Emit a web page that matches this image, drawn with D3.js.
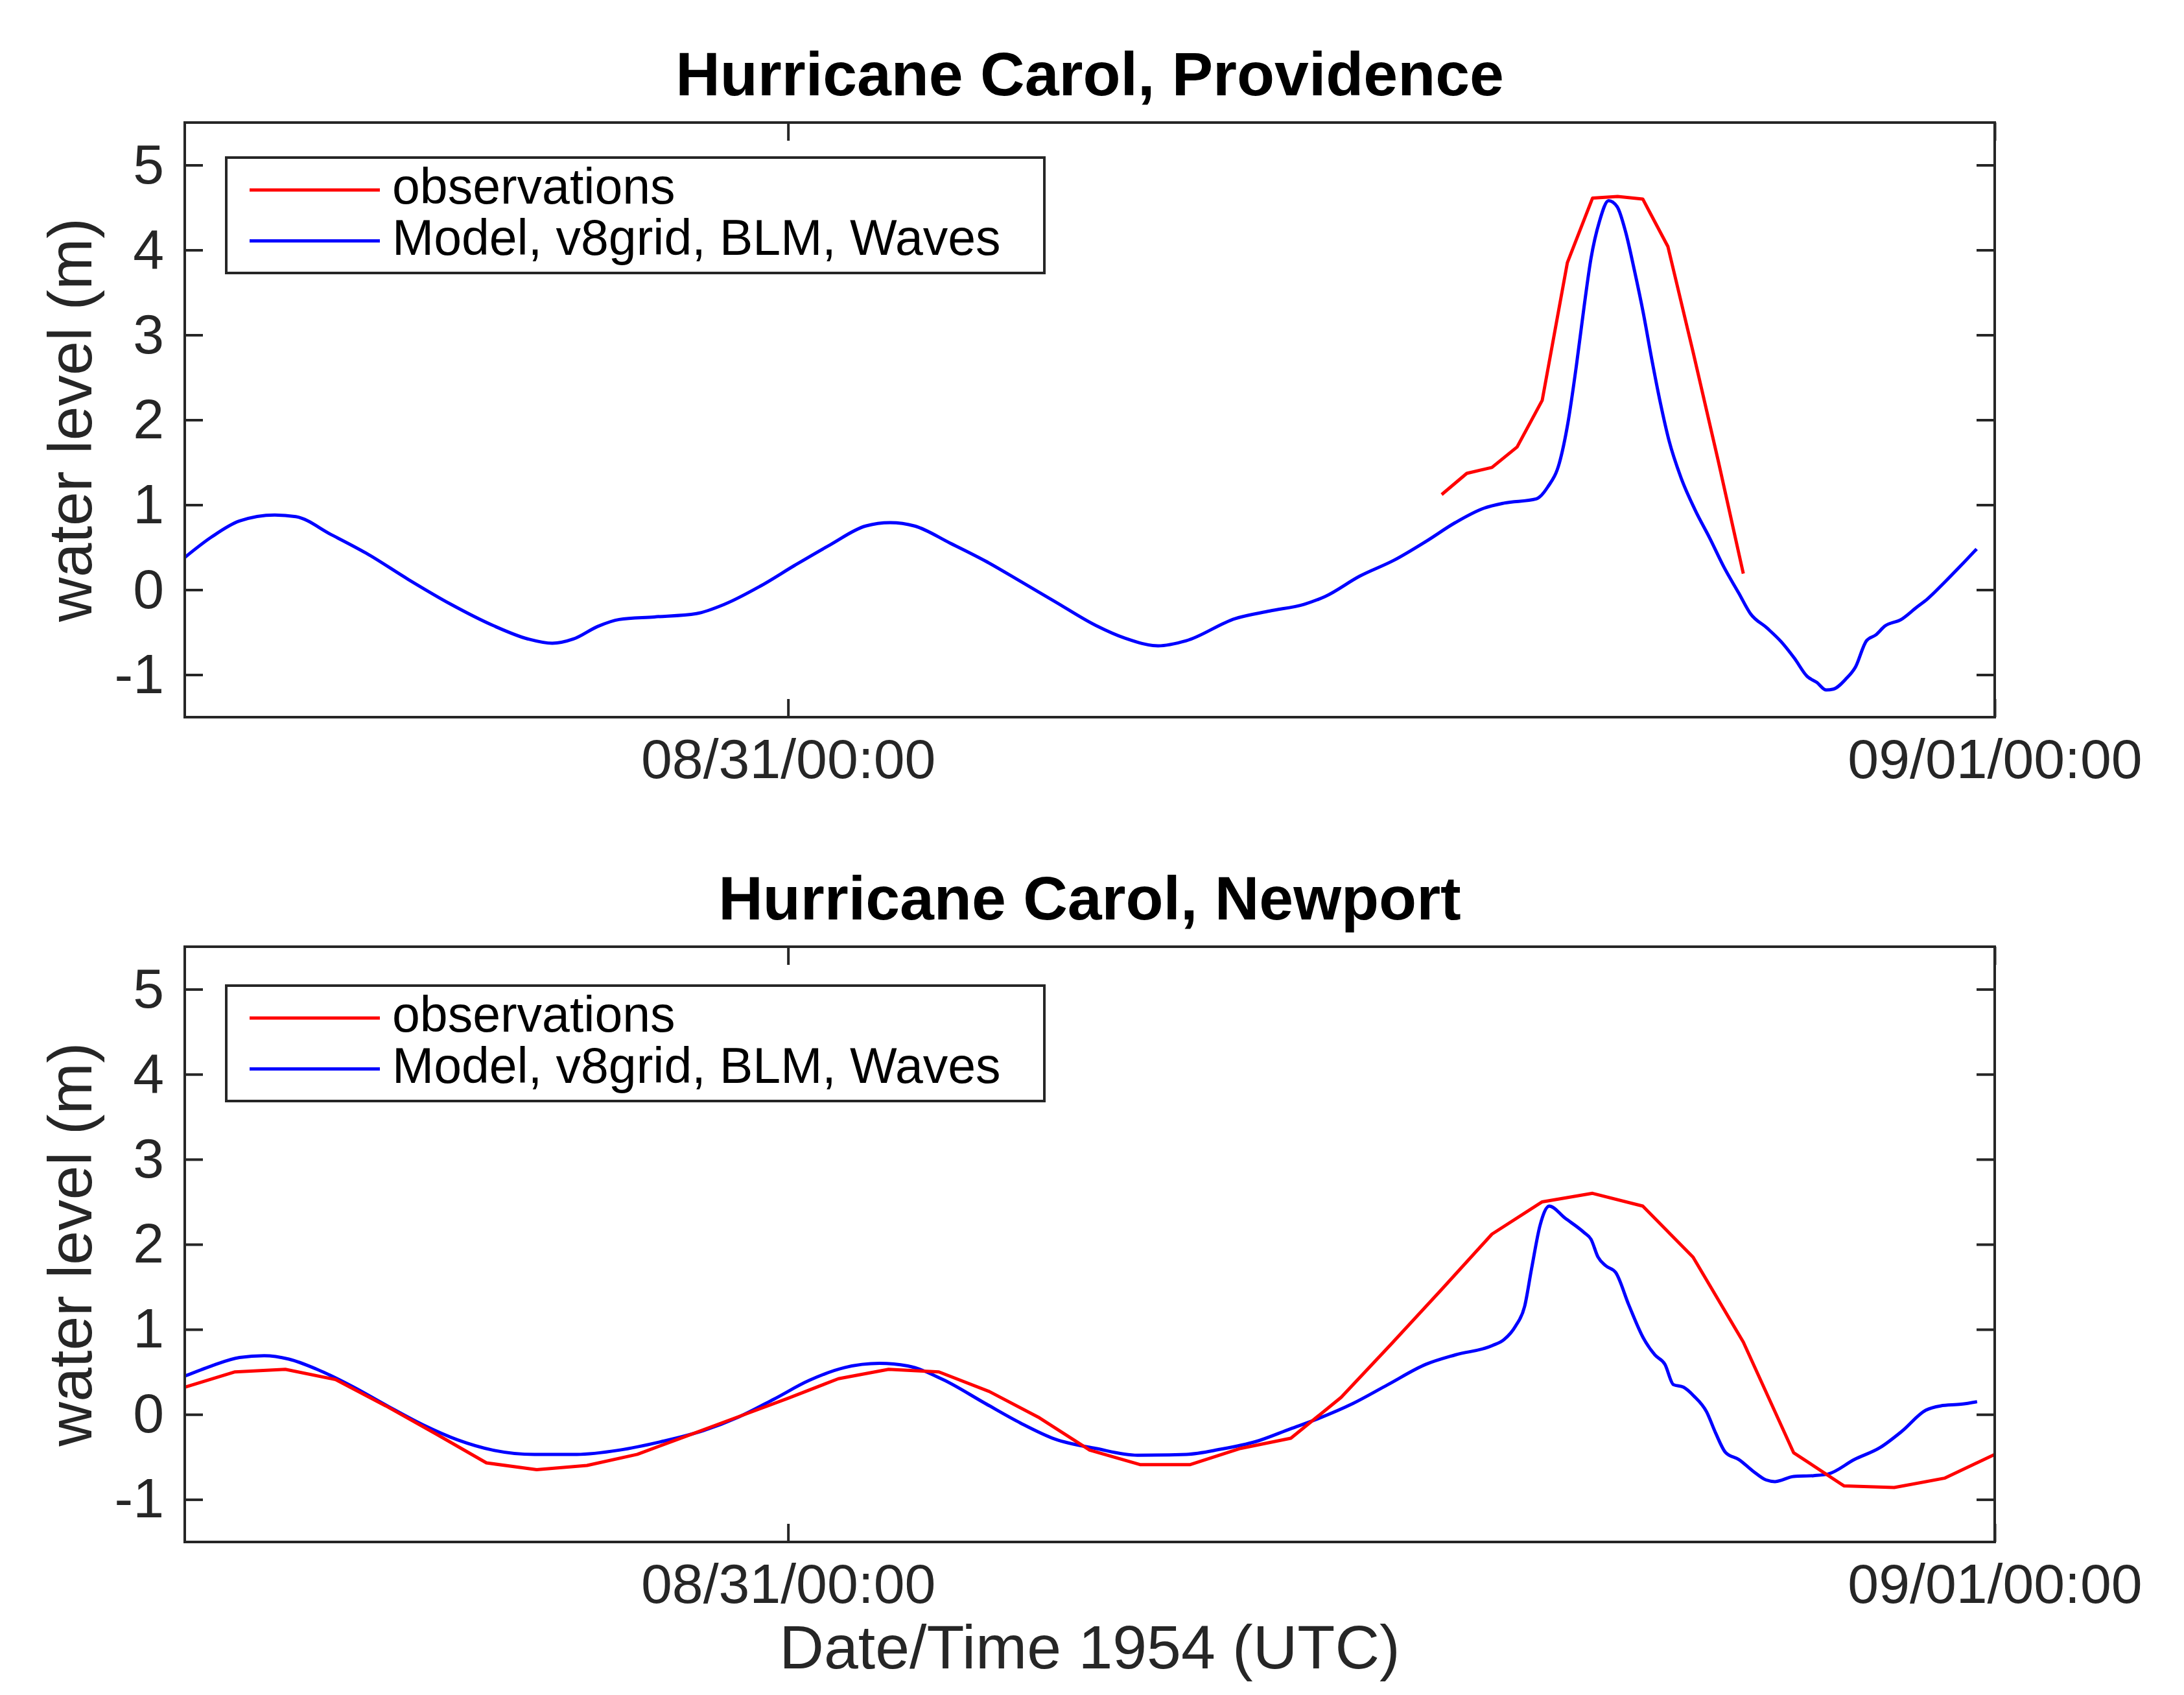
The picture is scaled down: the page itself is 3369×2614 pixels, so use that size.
<!DOCTYPE html>
<html>
<head>
<meta charset="utf-8">
<script src="https://cdn.jsdelivr.net/npm/d3@7"></script>
<style>
  html, body { margin: 0; padding: 0; background: #fff; }
  svg { display: block; }
</style>
</head>
<body>
<svg id="chart" width="3369" height="2614"></svg>
<script>
// ---------------- DATA ----------------
// time in hours since 1954-08-30 12:00 UTC
const startTime = "1954-08-30T12:00:00Z";
const endTime = "1954-09-01T00:00:00Z";
const xTickTimes = ["1954-08-31T00:00:00Z", "1954-09-01T00:00:00Z"];
const yTicks = [-1, 0, 1, 2, 3, 4, 5];
const yDomain = [-1.5, 5.5];

const titles = ["Hurricane Carol, Providence", "Hurricane Carol, Newport"];
const seriesNames = ["observations", "Model, v8grid, BLM, Waves"];
const yLabel = "water level (m)";
const xLabel = "Date/Time 1954 (UTC)";

// Providence
const provModelHours = [0, 0.53, 1.09, 1.79, 2.21, 2.91, 3.61, 4.45, 5.29, 6.13, 6.83, 7.31, 7.73, 8.22, 8.64, 9.34, 10.18, 10.74, 11.44, 12.14, 12.84, 13.54, 14.03, 14.52, 15.22, 15.92, 16.62, 17.31, 18.12, 18.7, 19.36, 19.92, 20.89, 21.58, 22.27, 22.68, 23.37, 24.06, 24.69, 25.27, 25.84, 26.24, 26.88, 27.11, 27.34, 27.51, 27.68, 27.83, 27.97, 28.14, 28.32, 28.49, 28.66, 28.83, 29.01, 29.18, 29.35, 29.52, 29.76, 30.04, 30.33, 30.62, 30.91, 31.14, 31.47, 31.75, 32.02, 32.27, 32.46, 32.65, 32.79, 33.04, 33.23, 33.45, 33.64, 33.81, 34.14, 34.44, 34.66, 34.99, 35.32, 35.64];
const provModelLevel = [0.38, 0.62, 0.81, 0.88, 0.86, 0.65, 0.43, 0.12, -0.17, -0.42, -0.58, -0.63, -0.58, -0.43, -0.35, -0.32, -0.28, -0.17, 0.04, 0.29, 0.53, 0.75, 0.79, 0.75, 0.55, 0.34, 0.10, -0.14, -0.42, -0.57, -0.66, -0.60, -0.34, -0.25, -0.17, -0.08, 0.16, 0.35, 0.57, 0.79, 0.96, 1.02, 1.07, 1.21, 1.49, 1.96, 2.64, 3.32, 3.90, 4.34, 4.58, 4.51, 4.21, 3.77, 3.26, 2.71, 2.20, 1.76, 1.32, 0.94, 0.61, 0.26, -0.04, -0.28, -0.45, -0.61, -0.81, -1.02, -1.09, -1.18, -1.17, -1.05, -0.91, -0.60, -0.53, -0.43, -0.35, -0.21, -0.11, 0.08, 0.28, 0.48];
const provObsHours = [25, 25.5, 26, 26.5, 27, 27.5, 28, 28.5, 29, 29.5, 30, 30.5, 31];
const provObsLevel = [1.12, 1.37, 1.44, 1.68, 2.23, 3.85, 4.61, 4.63, 4.60, 4.04, 2.80, 1.52, 0.19];

// Newport
const newpModelHours = [0, 0.53, 1.09, 1.58, 2.07, 2.63, 3.33, 4.03, 4.73, 5.43, 6.13, 6.96, 7.80, 8.64, 9.48, 10.32, 11.02, 11.72, 12.42, 13.12, 13.82, 14.38, 15.08, 15.92, 16.62, 17.31, 18.12, 18.95, 19.92, 20.6, 21.3, 21.99, 22.54, 23.24, 23.93, 24.69, 25.27, 26.01, 26.24, 26.47, 26.65, 26.79, 26.96, 27.14, 27.45, 27.83, 27.97, 28.11, 28.26, 28.46, 28.72, 29.01, 29.24, 29.44, 29.61, 29.81, 30.01, 30.27, 30.45, 30.65, 30.91, 31.20, 31.45, 31.63, 32.0, 32.4, 32.69, 33.21, 33.72, 34.15, 34.63, 34.92, 35.33, 35.65];
const newpModelLevel = [0.45, 0.57, 0.67, 0.69, 0.65, 0.53, 0.33, 0.10, -0.12, -0.30, -0.42, -0.47, -0.47, -0.42, -0.32, -0.19, -0.03, 0.18, 0.40, 0.55, 0.60, 0.57, 0.41, 0.13, -0.10, -0.29, -0.40, -0.48, -0.47, -0.41, -0.32, -0.17, -0.05, 0.13, 0.35, 0.59, 0.70, 0.81, 0.88, 1.04, 1.27, 1.72, 2.23, 2.45, 2.31, 2.14, 2.06, 1.85, 1.75, 1.67, 1.29, 0.90, 0.70, 0.59, 0.35, 0.32, 0.22, 0.03, -0.22, -0.45, -0.53, -0.67, -0.77, -0.79, -0.73, -0.72, -0.70, -0.53, -0.39, -0.20, 0.05, 0.10, 0.12, 0.15];
const newpObsHours = [0, 1, 2, 3, 4, 5, 6, 7, 8, 9, 10, 11, 12, 13, 14, 15, 16, 17, 18, 19, 20, 21, 22, 23, 24, 25, 26, 27, 28, 29, 30, 31, 32, 33, 34, 35, 36];
const newpObsLevel = [0.32, 0.50, 0.53, 0.41, 0.10, -0.23, -0.57, -0.65, -0.60, -0.47, -0.25, -0.03, 0.19, 0.42, 0.53, 0.50, 0.27, -0.04, -0.42, -0.59, -0.59, -0.40, -0.28, 0.20, 0.83, 1.47, 2.12, 2.50, 2.60, 2.45, 1.85, 0.85, -0.45, -0.84, -0.86, -0.75, -0.47];

// ---------------- LAYOUT ----------------
const W = 3369, H = 2614;
const FONT = "'Liberation Sans', Arial, Helvetica, sans-serif";
const AX = "#262626";
const panels = [
  { top: 189, bottom: 1106, legendTop: 243, title: titles[0],
    model: [provModelHours, provModelLevel], obs: [provObsHours, provObsLevel] },
  { top: 1460, bottom: 2378, legendTop: 1520, title: titles[1],
    model: [newpModelHours, newpModelLevel], obs: [newpObsHours, newpObsLevel] }
];
const left = 285, right = 3077;

const t0 = new Date(startTime);
const toDate = h => new Date(t0.getTime() + h * 3600e3);
const fmt = d3.utcFormat("%m/%d/%H:%M");

const svg = d3.select("#chart");
svg.append("rect").attr("width", W).attr("height", H).attr("fill", "#fff");

const x = d3.scaleUtc().domain([new Date(startTime), new Date(endTime)]).range([left, right]);
const xTicks = xTickTimes.map(s => new Date(s));

panels.forEach((p, i) => {
  const y = d3.scaleLinear().domain(yDomain).range([p.bottom, p.top]);
  const g = svg.append("g");

  const clipId = "clip" + i;
  svg.append("clipPath").attr("id", clipId)
    .append("rect").attr("x", left).attr("y", p.top).attr("width", right - left).attr("height", p.bottom - p.top);

  // data lines
  const zip = (hs, vs) => hs.map((h, k) => ({ t: toDate(h), v: vs[k] }));
  const lineSmooth = d3.line().x(d => x(d.t)).y(d => y(d.v)).curve(d3.curveMonotoneX);
  const lineLin = d3.line().x(d => x(d.t)).y(d => y(d.v));

  g.append("path").datum(zip(p.model[0], p.model[1]))
    .attr("clip-path", `url(#${clipId})`)
    .attr("d", lineSmooth).attr("fill", "none").attr("stroke", "#0000ff")
    .attr("stroke-width", 5).attr("stroke-linejoin", "round");
  g.append("path").datum(zip(p.obs[0], p.obs[1]))
    .attr("clip-path", `url(#${clipId})`)
    .attr("d", lineLin).attr("fill", "none").attr("stroke", "#ff0000")
    .attr("stroke-width", 5).attr("stroke-linejoin", "round");

  // axes
  const styleAxis = sel => {
    sel.select(".domain").remove();
    sel.selectAll(".tick line").attr("stroke", AX).attr("stroke-width", 4);
    sel.selectAll(".tick text").attr("fill", AX).style("font-family", FONT).style("font-size", "86px");
  };
  g.append("g").attr("transform", `translate(${left},0)`)
    .call(d3.axisLeft(y).tickValues(yTicks).tickSize(-28).tickPadding(32).tickFormat(d => String(d)))
    .call(styleAxis);
  g.append("g").attr("transform", `translate(${right},0)`)
    .call(d3.axisRight(y).tickValues(yTicks).tickSize(-28).tickFormat(""))
    .call(styleAxis);
  g.append("g").attr("transform", `translate(0,${p.bottom})`)
    .call(d3.axisBottom(x).tickValues(xTicks).tickSize(-28).tickPadding(33).tickFormat(fmt))
    .call(styleAxis);
  g.append("g").attr("transform", `translate(0,${p.top})`)
    .call(d3.axisTop(x).tickValues(xTicks).tickSize(-28).tickFormat(""))
    .call(styleAxis);

  // box
  g.append("rect").attr("x", left).attr("y", p.top).attr("width", right - left).attr("height", p.bottom - p.top)
    .attr("fill", "none").attr("stroke", AX).attr("stroke-width", 4);

  // title
  g.append("text").attr("x", (left + right) / 2).attr("y", p.top - 42)
    .attr("text-anchor", "middle").attr("fill", "#000")
    .style("font-family", FONT).style("font-size", "95px").style("font-weight", "bold")
    .text(p.title);

  // y label
  g.append("text")
    .attr("transform", `translate(141,${(p.top + p.bottom) / 2}) rotate(-90)`)
    .attr("text-anchor", "middle").attr("fill", AX)
    .style("font-family", FONT).style("font-size", "95px")
    .text(yLabel);

  // legend
  const lg = g.append("g").attr("transform", `translate(349,${p.legendTop})`);
  lg.append("rect").attr("x", 0).attr("y", 0).attr("width", 1262).attr("height", 178)
    .attr("fill", "#fff").attr("stroke", AX).attr("stroke-width", 4);
  const colors = ["#ff0000", "#0000ff"];
  seriesNames.forEach((name, k) => {
    const cy = 50 + k * 78.5;
    lg.append("line").attr("x1", 36).attr("x2", 237).attr("y1", cy).attr("y2", cy)
      .attr("stroke", colors[k]).attr("stroke-width", 5);
    lg.append("text").attr("x", 256).attr("y", cy + 21).attr("fill", "#000")
      .style("font-family", FONT).style("font-size", "77px").text(name);
  });
});

// x label
svg.append("text").attr("x", (left + right) / 2).attr("y", 2573)
  .attr("text-anchor", "middle").attr("fill", AX)
  .style("font-family", FONT).style("font-size", "95px")
  .text(xLabel);
</script>
</body>
</html>
